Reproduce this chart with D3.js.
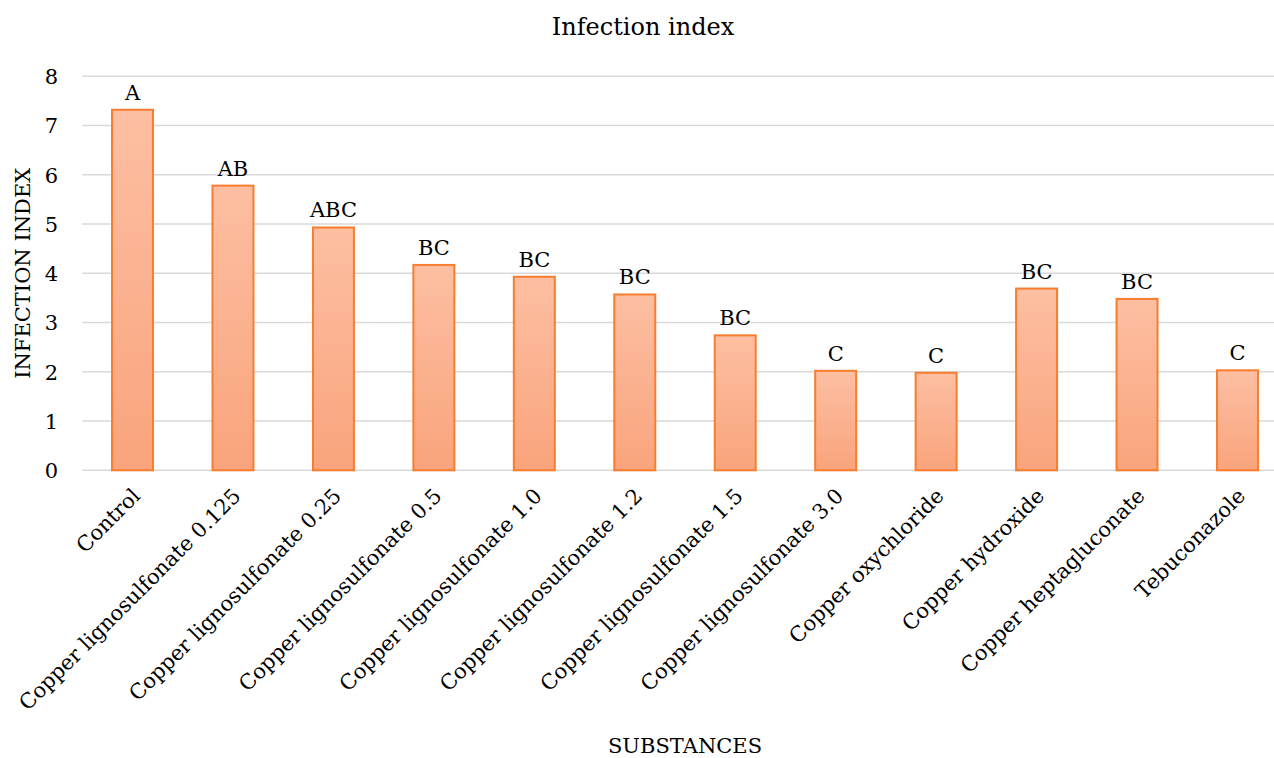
<!DOCTYPE html>
<html>
<head>
<meta charset="utf-8">
<script src="https://cdn.jsdelivr.net/npm/d3@7"></script>
<style>
  html, body { margin: 0; padding: 0; background: #fff; overflow: hidden; }
  svg text { font-family: "DejaVu Serif", "Liberation Serif", serif; fill: #000; }
</style>
</head>
<body>
<svg id="chart" width="1274" height="758"></svg>
<script>
// Treatments tested
const substances = [
  "Control",
  "Copper lignosulfonate 0.125",
  "Copper lignosulfonate 0.25",
  "Copper lignosulfonate 0.5",
  "Copper lignosulfonate 1.0",
  "Copper lignosulfonate 1.2",
  "Copper lignosulfonate 1.5",
  "Copper lignosulfonate 3.0",
  "Copper oxychloride",
  "Copper hydroxide",
  "Copper heptagluconate",
  "Tebuconazole"
];
// Mean infection index per treatment
const infectionIndex = [7.32, 5.78, 4.93, 4.17, 3.93, 3.57, 2.74, 2.02, 1.98, 3.69, 3.48, 2.03];
// Significance groups
const groups = ["A", "AB", "ABC", "BC", "BC", "BC", "BC", "C", "C", "BC", "BC", "C"];
// Y axis ticks
const yTicks = [0, 1, 2, 3, 4, 5, 6, 7, 8];

const svg = d3.select("#chart");

// Plot area runs past the right edge of the canvas
const x = d3.scaleBand()
  .domain(substances)
  .range([82.3, 1287.7])
  .paddingInner(0.592)
  .paddingOuter(0.296);

const y = d3.scaleLinear()
  .domain([0, 8])
  .range([470.3, 76.3]);

// Bar gradient
const defs = svg.append("defs");
const grad = defs.append("linearGradient")
  .attr("id", "barGrad")
  .attr("x1", 0).attr("y1", 0).attr("x2", 0).attr("y2", 1);
grad.append("stop").attr("offset", "0%").attr("stop-color", "#fdbfa2");
grad.append("stop").attr("offset", "100%").attr("stop-color", "#f9a47c");

// Gridlines
svg.append("g")
  .selectAll("line")
  .data(yTicks)
  .join("line")
  .attr("x1", 82.3)
  .attr("x2", 1287.7)
  .attr("y1", d => y(d))
  .attr("y2", d => y(d))
  .attr("stroke", "#d9d9d9")
  .attr("stroke-width", 1.5);

// Y axis tick labels
const yAxis = d3.axisLeft(y).tickValues(yTicks).tickSize(0).tickPadding(0);
svg.append("g")
  .attr("transform", "translate(58,0)")
  .call(yAxis)
  .call(g => g.select(".domain").remove())
  .call(g => g.selectAll("text")
    .attr("font-size", 21)
    .attr("font-family", "'DejaVu Serif', serif")
    .attr("dy", "0.35em"));

// Bars
svg.append("g")
  .selectAll("rect")
  .data(substances)
  .join("rect")
  .attr("x", d => x(d))
  .attr("y", (d, i) => y(infectionIndex[i]))
  .attr("width", x.bandwidth())
  .attr("height", (d, i) => y(0) - y(infectionIndex[i]))
  .attr("fill", "url(#barGrad)")
  .attr("stroke", "#f97d2e")
  .attr("stroke-width", 2);

// Group letters above bars
svg.append("g")
  .selectAll("text")
  .data(substances)
  .join("text")
  .attr("x", d => x(d) + x.bandwidth() / 2)
  .attr("y", (d, i) => y(infectionIndex[i]) - 10)
  .attr("text-anchor", "middle")
  .attr("font-size", 21)
  .text((d, i) => groups[i]);

// X axis category labels, rotated
const xAxis = d3.axisBottom(x).tickSize(0).tickPadding(0);
svg.append("g")
  .attr("transform", `translate(0,${y(0)})`)
  .call(xAxis)
  .call(g => g.select(".domain").remove())
  .call(g => g.selectAll("text")
    .attr("font-size", 21)
    .attr("font-family", "'DejaVu Serif', serif")
    .attr("text-anchor", "end")
    .attr("dy", null)
    .attr("y", 0)
    .attr("transform", "translate(9,27) rotate(-45)"));

// Titles
svg.append("text")
  .attr("x", 643).attr("y", 35)
  .attr("text-anchor", "middle")
  .attr("font-size", 24)
  .text("Infection index");

svg.append("text")
  .attr("transform", `translate(30,${(y(0) + y(8)) / 2}) rotate(-90)`)
  .attr("text-anchor", "middle")
  .attr("font-size", 21)
  .text("INFECTION INDEX");

svg.append("text")
  .attr("x", 685).attr("y", 753)
  .attr("text-anchor", "middle")
  .attr("font-size", 21)
  .text("SUBSTANCES");
</script>
</body>
</html>
